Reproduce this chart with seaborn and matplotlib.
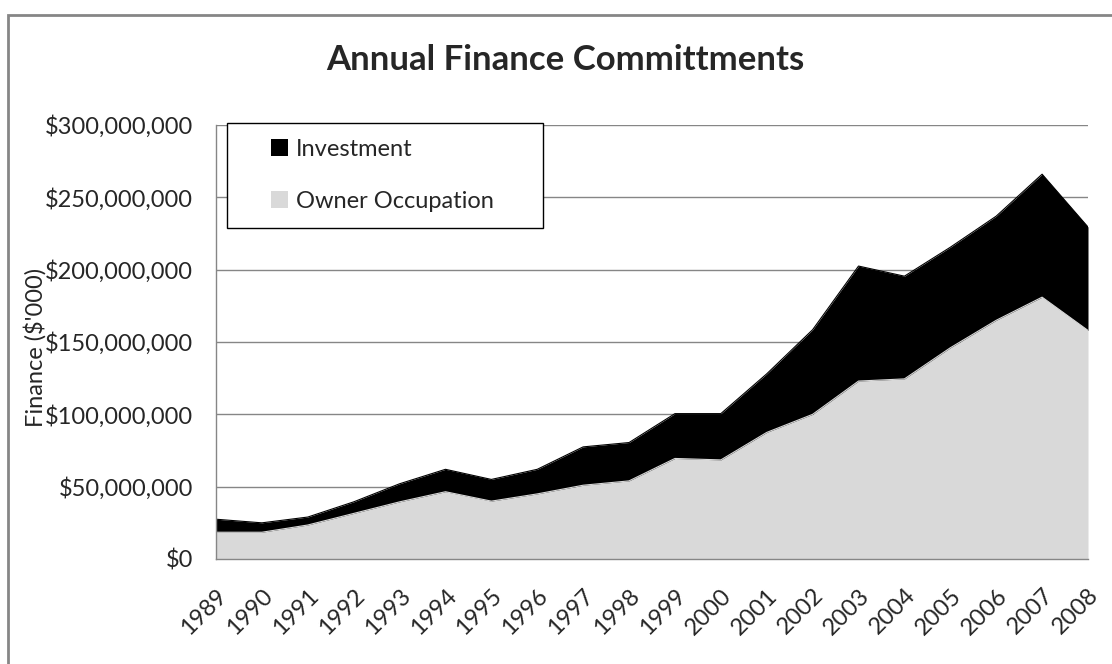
import numpy as np
import pandas as pd
import matplotlib
matplotlib.use('Agg')
import matplotlib.pyplot as plt
import matplotlib.ticker as mticker
import matplotlib.transforms as mtransforms
from matplotlib.patches import Patch, Rectangle
from matplotlib.legend_handler import HandlerPatch
import seaborn as sns

sns.set_style('white')
plt.rcParams['font.family'] = ['Lato', 'DejaVu Sans']

# data (dollars)
years = list(range(1989, 2009))
owner_occupation = [18.5, 18.5, 23.5, 31.5, 39.5, 46.5, 40.0, 45.0, 51.0, 54.0,
                    69.5, 68.5, 87.5, 100.0, 123.0, 124.5, 146.0, 165.0, 181.0, 158.0]
investment = [9.0, 6.5, 5.5, 8.0, 12.5, 15.5, 15.0, 17.0, 26.5, 26.5,
              31.0, 32.0, 40.5, 58.5, 79.5, 71.0, 69.5, 72.0, 85.0, 71.5]
owner_occupation = [v * 1e6 for v in owner_occupation]
investment = [v * 1e6 for v in investment]

df = pd.DataFrame({'Year': years,
                   'Owner Occupation': owner_occupation,
                   'Investment': investment})
df['Total'] = df['Owner Occupation'] + df['Investment']

grey = '#d9d9d9'
black = '#000000'
axis_grey = '#868686'

fig = plt.figure(figsize=(11.12, 6.64), dpi=100)
ax = fig.add_axes([216 / 1112, 1 - 559 / 664, (1088 - 216) / 1112, (559 - 125) / 664])

# stacked areas
ax.fill_between(df['Year'], 0, df['Owner Occupation'], color=grey, lw=0, zorder=2)
ax.fill_between(df['Year'], df['Owner Occupation'], df['Total'], color=black, lw=0, zorder=2)
sns.lineplot(data=df, x='Year', y='Owner Occupation', color=grey, lw=0.8, ax=ax, zorder=3)
sns.lineplot(data=df, x='Year', y='Total', color=black, lw=0.8, ax=ax, zorder=3)

ax.set_xlim(1989, 2008)
ax.set_ylim(0, 300e6)
ax.set_xticks(years)
ax.set_xticklabels([str(y) for y in years], rotation=45, ha='right',
                   rotation_mode='anchor', fontsize=17)
shift = mtransforms.ScaledTranslation(5 / 100, 0, fig.dpi_scale_trans)
for lab in ax.get_xticklabels():
    lab.set_transform(lab.get_transform() + shift)
ax.set_yticks(np.arange(0, 300e6 + 1, 50e6))
ax.yaxis.set_major_formatter(mticker.FuncFormatter(lambda v, p: '${:,.0f}'.format(v)))
ax.tick_params(axis='y', labelsize=17, length=6.5, width=1, color=axis_grey, pad=10)
ax.tick_params(axis='x', length=5.5, width=1, color=axis_grey, pad=13)
ax.yaxis.grid(True, color=axis_grey, lw=1, zorder=1)
ax.set_axisbelow(True)
for s in ['top', 'right']:
    ax.spines[s].set_visible(False)
for s in ['left', 'bottom']:
    ax.spines[s].set_color(axis_grey)
    ax.spines[s].set_linewidth(1)
    ax.spines[s].set_zorder(4)

ax.set_xlabel('')
ax.set_ylabel("Finance ($'000)", fontsize=17)
ax.yaxis.set_label_coords(-0.194, 0.488)

fig.text(565 / 1112, 1 - 60 / 664, 'Annual Finance Committments', ha='center', va='center',
         fontsize=25, fontweight='bold')


def square_at_right(legend, orig_handle, xdescent, ydescent, width, height, fontsize):
    return Rectangle((-xdescent + width - height, -ydescent), height, height)


handles = [Patch(facecolor=black, edgecolor='none'), Patch(facecolor=grey, edgecolor='none')]
leg = ax.legend(handles, ['Investment', 'Owner Occupation'], loc='upper left',
                bbox_to_anchor=((227 - 216) / 872, 0, (543 - 227) / 872, 1.005), mode='expand',
                fontsize=17, frameon=True, fancybox=False, borderpad=0.68, labelspacing=1.3,
                handlelength=1.9, handleheight=0.7, handletextpad=0.35, borderaxespad=0,
                handler_map={Patch: HandlerPatch(patch_func=square_at_right)})
leg.get_frame().set_edgecolor('black')
leg.get_frame().set_linewidth(1)
leg.get_frame().set_alpha(1)

# outer chart frame
fig.patches.append(Rectangle((8 / 1112, -0.05), 1.1, 1 - 15 / 664 + 0.05, transform=fig.transFigure,
                             fill=False, edgecolor=axis_grey, lw=2))

fig.savefig('out.png', dpi=100)
